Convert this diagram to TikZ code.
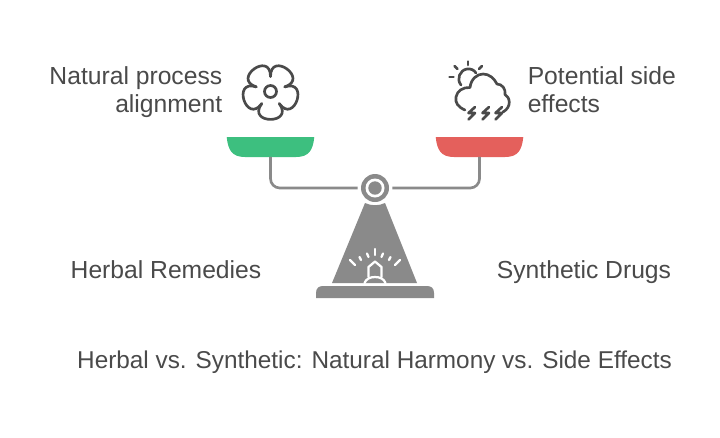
\documentclass[tikz,border=0pt]{standalone}
\usepackage{fontspec}
\setmainfont{Liberation Sans}
\usepackage{xcolor}
\usetikzlibrary{positioning, calc}
\definecolor{inkgray}{HTML}{4A4A4A}
\definecolor{scalegray}{HTML}{8A8A8A}
\definecolor{pangreen}{HTML}{3DBF7F}
\definecolor{panred}{HTML}{E4605C}

\begin{document}
\begin{tikzpicture}[
    x=0.75pt, y=-0.75pt,
    every node/.style={font=\fontsize{18.5pt}{21pt}\selectfont, text=inkgray, inner sep=0pt},
    pan/.style={rectangle, minimum width=65.25pt, minimum height=14.5pt},
    beam/.style={draw=scalegray, line width=2pt, rounded corners=7pt},
    icon/.style={draw=inkgray, line width=2pt, line cap=round, line join=round},
    ray/.style={draw=white, line width=1.7pt, line cap=round}
]
\useasboundingbox (0,0) rectangle (720,437);
\fill[white] (0,0) rectangle (720,437);

% pans
\node (greenpan) [pan] at (270.5,147) {};
\node (redpan) [pan] at (479.5,147) {};
\fill[pangreen] (greenpan.north west) -- (greenpan.north east)
    .. controls (313,150) and (309,157) .. (296,157) -- (245,157)
    .. controls (232,157) and (228,150) .. cycle;
\fill[panred] (redpan.north west) -- (redpan.north east)
    .. controls (522,150) and (518,157) .. (505,157) -- (454,157)
    .. controls (441,157) and (437,150) .. cycle;

% stand
\node (pivot) [circle, fill=scalegray, minimum size=21pt] at (375,188) {};
\fill[white] (pivot) circle (9.5);
\fill[scalegray] (pivot) circle (6.7);
\draw [beam] (greenpan.south) |- ($(pivot.west)+(-3,0)$);
\draw [beam] (redpan.south) |- ($(pivot.east)+(3,0)$);
\fill[scalegray] (365,203) .. controls (371,206) and (379,206) .. (385,203)
    -- (417,283) -- (332,283) -- cycle;
\fill[scalegray] (316,298) -- (316,293) .. controls (316,288) and (319,286) .. (323,286)
    -- (427,286) .. controls (431,286) and (434,288) .. (434,293) -- (434,298) -- cycle;

% lamp on the stand
\draw [ray] (375,249) -- (375,255);
\draw [ray] (367,253.5) -- (368.5,257);
\draw [ray] (383,253.5) -- (381.5,257);
\draw [ray] (359.5,257) -- (361,260);
\draw [ray] (390.5,257) -- (389,260);
\draw [ray] (350,260) -- (355,265);
\draw [ray] (400,260) -- (395,265);
\draw [ray, line join=round] (368.5,277) -- (368.5,267) -- (375,261.5) -- (381.5,267) -- (381.5,277);
\draw [ray] (364.5,283) .. controls (366,279) and (370,277) .. (375,277)
    .. controls (380,277) and (384,279) .. (385.5,283);

% flower
\begin{scope}[shift={(270.5,91.5)}]
\foreach \a in {90,162,234,306,378} {
    \draw [icon] (\a-36:15) .. controls (\a-36:41) and (\a+36:41) .. (\a+36:15);
}
\draw [icon] (0,0) circle (6);
\end{scope}

% storm cloud
\draw [icon] (465,110) .. controls (458,107) and (455,103) .. (456,97)
    .. controls (457,91) and (463,87) .. (470,87.5)
    .. controls (471,79) and (477,74) .. (483,74)
    .. controls (489,74) and (494,78) .. (497,84)
    .. controls (502,84) and (506,89) .. (505,94.5)
    .. controls (510,97) and (512,107) .. (503,112);
\draw [icon] (461,85) .. controls (456,79) and (460,70) .. (467,69)
    .. controls (471,68.5) and (474,70) .. (476,73);
\draw [icon] (468,61.5) -- (468,65);
\draw [icon] (454.5,66) -- (457.5,69);
\draw [icon] (449.5,77) -- (453.5,77);
\draw [icon] (482,66) -- (479,69);
\foreach \x in {475,489,502} {
    \draw [icon] (\x,107) -- (\x-6.5,113) -- (\x,113) -- (\x-6.5,119.5);
}

% labels
\node (flowertext) [align=right, anchor=east] at (222.5,92) {Natural process\\alignment};
\node (stormtext) [align=left, anchor=west] at (527.5,90) {Potential side\\effects};
\node (herbal) [anchor=base] at (166,278) {Herbal Remedies};
\node (synthetic) [anchor=base] at (584,278) {Synthetic Drugs};
\node (title) [anchor=base, font=\fontsize{18.25pt}{21pt}\selectfont] at (374.5,368) {Herbal vs. Synthetic: Natural Harmony vs. Side Effects};
\end{tikzpicture}
\end{document}
